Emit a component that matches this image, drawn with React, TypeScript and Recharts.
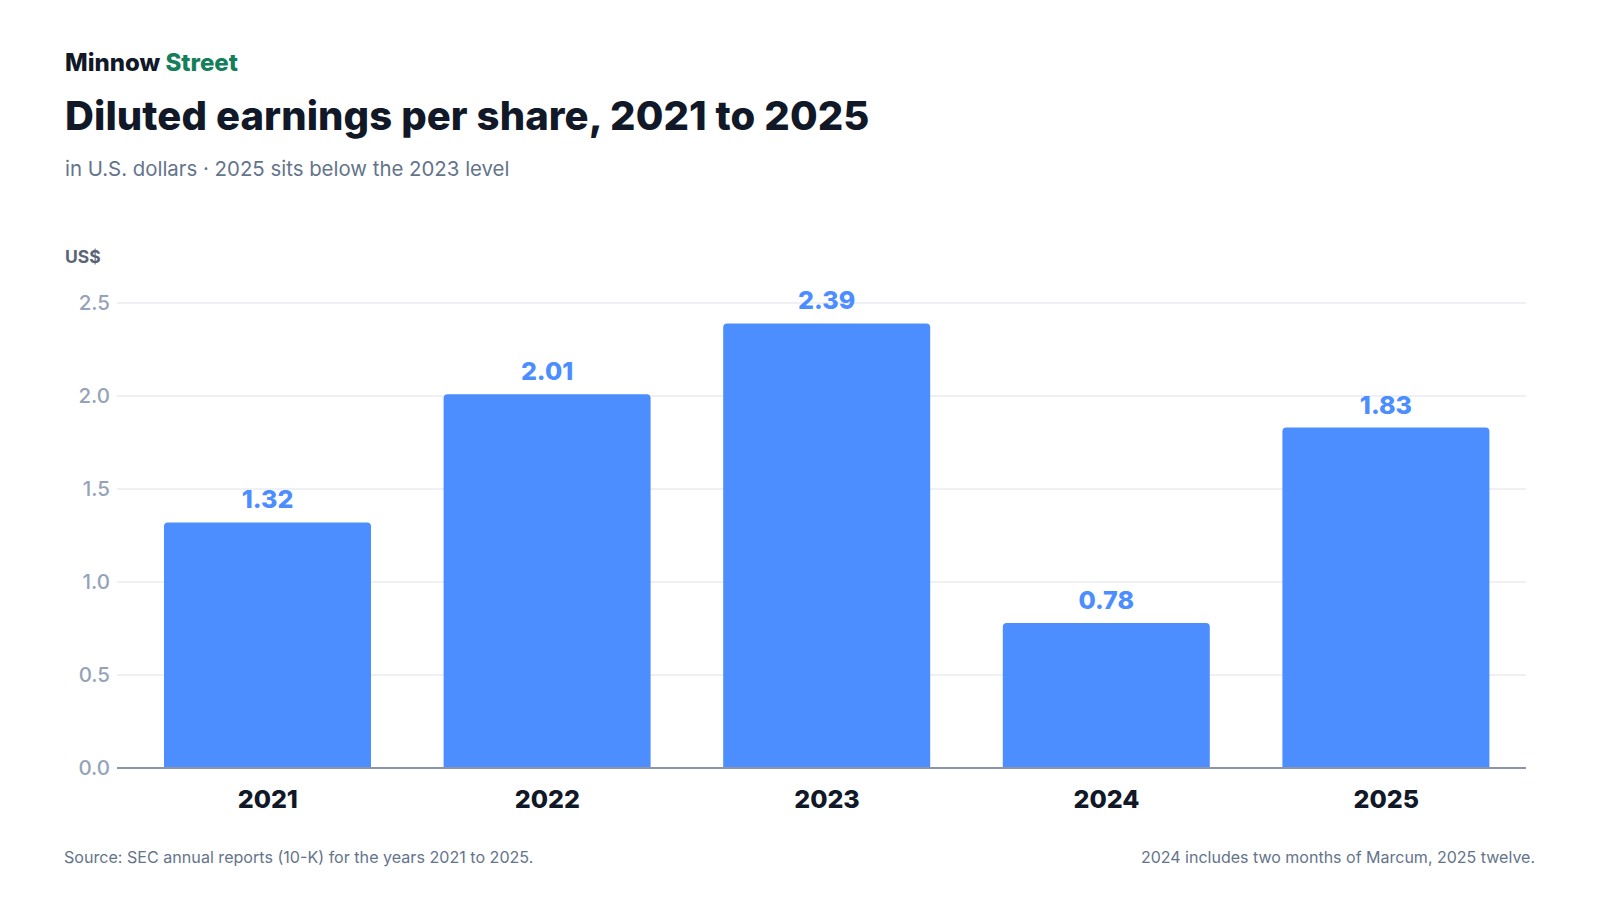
import React from "react";
import { BarChart, Bar, XAxis, YAxis, CartesianGrid, LabelList } from "recharts";

const years = ["2021", "2022", "2023", "2024", "2025"];
const eps = [1.32, 2.01, 2.39, 0.78, 1.83];
const yTicks = [0, 0.5, 1.0, 1.5, 2.0, 2.5];

const data = years.map((y, i) => ({ year: y, eps: eps[i] }));

const FONT = "Inter, 'Noto Sans', sans-serif";

export default function App() {
  return (
    <div style={{ position: "absolute", left: 0, top: 0, width: 1600, height: 900, background: "#ffffff", fontFamily: FONT }}>
      <BarChart
        width={1600}
        height={900}
        data={data}
        margin={{ top: 303, right: 74, bottom: 102, left: 0 }}
        style={{ position: "absolute", left: 0, top: 0 }}
      >
        <CartesianGrid vertical={false} stroke="#e8ebf0" strokeWidth={1.5} />
        <YAxis
          width={117}
          domain={[0, 2.5]}
          ticks={yTicks}
          tickFormatter={(v: number) => v.toFixed(1)}
          axisLine={false}
          tickLine={false}
          tickSize={0}
          tickMargin={7}
          tick={{ fill: "#94a3b8", fontSize: 20.5, fontWeight: 500, fontFamily: FONT }}
        />
        <XAxis
          dataKey="year"
          height={30}
          padding={{ left: 11, right: 0 }}
          axisLine={{ stroke: "#8c95a8", strokeWidth: 2 }}
          tickLine={false}
          tickSize={0}
          tickMargin={22}
          tick={{ fill: "#111827", fontSize: 25, fontWeight: 800, fontFamily: FONT }}
        />
        <Bar dataKey="eps" fill="#4c8dff" barSize={207} radius={[4, 4, 0, 0]} isAnimationActive={false}>
          <LabelList
            dataKey="eps"
            position="top"
            offset={14}
            formatter={(v: number) => v.toFixed(2)}
            style={{ fill: "#4c8dff", fontSize: 25, fontWeight: 800, fontFamily: FONT }}
          />
        </Bar>
      </BarChart>
      <svg width={1600} height={900} style={{ position: "absolute", left: 0, top: 0, pointerEvents: "none" }}>
        <text x={65} y={70.7} fontSize={24} fontWeight={800} fontFamily={FONT}>
          <tspan fill="#111827">Minnow </tspan>
          <tspan fill="#157f5b">Street</tspan>
        </text>
        <text x={65} y={130} fontSize={40} fontWeight={800} fontFamily={FONT} fill="#111827" letterSpacing={0.1}>
          Diluted earnings per share, 2021 to 2025
        </text>
        <text x={65} y={176} fontSize={20.4} fontWeight={400} fontFamily={FONT} fill="#64748b">
          in U.S. dollars · 2025 sits below the 2023 level
        </text>
        <text x={65} y={263.3} fontSize={17.5} fontWeight={700} fontFamily={FONT} fill="#5b6477">
          US$
        </text>
        <text x={64} y={862.7} fontSize={16.1} fontWeight={400} fontFamily={FONT} fill="#64748b">
          Source: SEC annual reports (10-K) for the years 2021 to 2025.
        </text>
        <text x={1535} y={862.7} fontSize={16} fontWeight={400} fontFamily={FONT} fill="#64748b" textAnchor="end">
          2024 includes two months of Marcum, 2025 twelve.
        </text>
      </svg>
    </div>
  );
}
